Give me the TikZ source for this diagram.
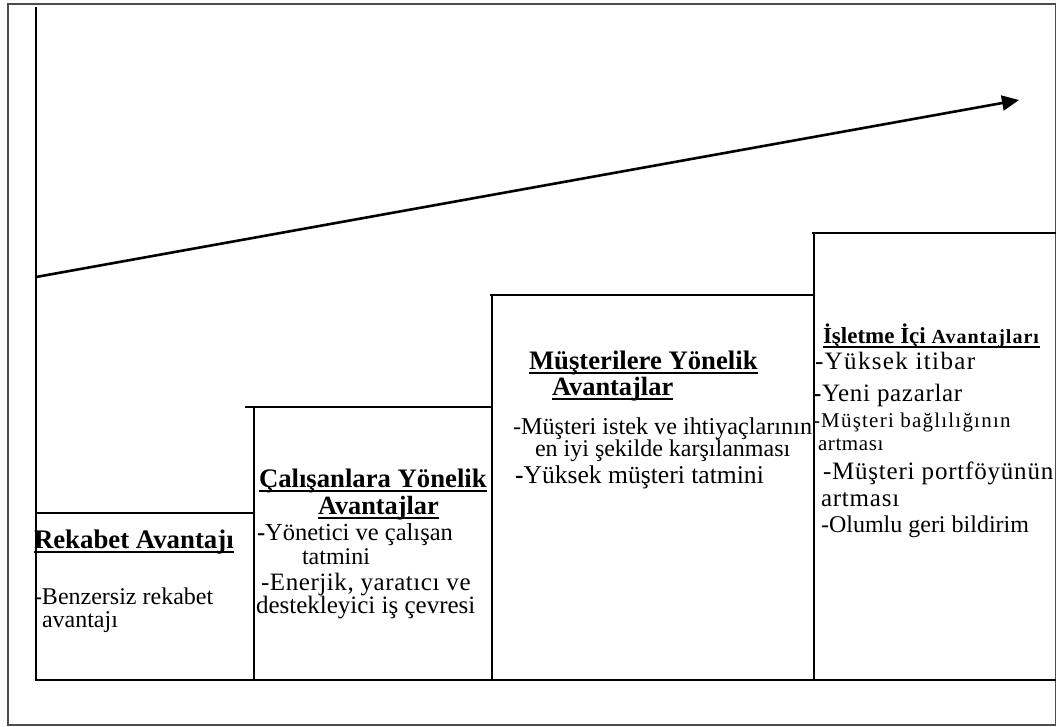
\documentclass[tikz,border=0pt]{standalone}
\usepackage{fontspec}
\setmainfont{Liberation Serif}
\usetikzlibrary{arrows.meta}
\newcommand\fsz[1]{\fontsize{#1}{#1}\selectfont}
\newcommand\ulbox[1]{\setbox0\hbox{#1}\rlap{\rule[-5pt]{\wd0}{2pt}}\box0}
\newcommand\lsp[2]{{\addfontfeature{LetterSpace=#1}#2}}
\begin{document}
\begin{tikzpicture}[x=1pt,y=-1pt,
  frame/.style={draw=black!70,line width=1.3pt},
  stair/.style={draw=black,line width=1.9pt},
  trend/.style={draw=black,line width=2.6pt,-{Triangle[length=17pt,width=15pt]}},
  txt/.style={anchor=base west,inner sep=0pt,outer sep=0pt,text=black}]
\useasboundingbox (0,0) rectangle (1057,727);
\draw[frame] (8,4) rectangle (1055.5,725);
% axis and baseline
\coordinate (axtop) at (36,7);
\coordinate (axbot) at (36,680);
\coordinate (baseR) at (1056,680);
\draw[stair] (axtop) -- (axbot) -- (baseR);
% steps
\coordinate (s1L) at (36,513);   \coordinate (s1R) at (254,513);
\coordinate (s2L) at (245,407);  \coordinate (s2R) at (492,407);
\coordinate (s3L) at (490,295);  \coordinate (s3R) at (813,295);
\coordinate (s4L) at (812,233);  \coordinate (s4R) at (1056,233);
\draw[stair] (s1L) -- (s1R);
\draw[stair] (254,680) -- (254,407);
\draw[stair] (s2L) -- (s2R);
\draw[stair] (492,680) -- (492,295);
\draw[stair] (s3L) -- (s3R);
\draw[stair] (814,680) -- (814,233);
\draw[stair] (s4L) -- (s4R);
% trend arrow
\coordinate (arS) at (36,277);
\coordinate (arE) at (1019,100);
\draw[trend] (arS) -- (arE);
% box 1
\node[txt] (t1a) at (34,548) {\fsz{26.8}\ulbox{\textbf{Rekabet Avantajı}}};
\node[txt] (b1a) at (34,604) {\fsz{24}-Benzersiz rekabet};
\node[txt] (b1b) at (42,627) {\fsz{24}avantajı};
% box 2
\node[txt] (t2a) at (259,487) {\fsz{26.7}\ulbox{\textbf{Çalışanlara Yönelik}}};
\node[txt] (t2b) at (318,514) {\fsz{26.3}\ulbox{\textbf{Avantajlar}}};
\node[txt] (b2a) at (257,540) {\fsz{24.5}\textbf{-}Yönetici ve çalışan};
\node[txt] (b2b) at (302,564) {\fsz{24}tatmini};
\node[txt] (b2c) at (261,590) {\fsz{25}\lsp{2.3}{-Enerjik, yaratıcı ve}};
\node[txt] (b2d) at (256,613) {\fsz{25}destekleyici iş çevresi};
% box 3
\node[txt] (t3a) at (529,369) {\fsz{26.7}\ulbox{\textbf{Müşterilere Yönelik}}};
\node[txt] (t3b) at (552,395) {\fsz{26.4}\ulbox{\textbf{Avantajlar}}};
\node[txt] (b3a) at (513,434) {\fsz{24.2}-Müşteri istek ve ihtiyaçlarının};
\node[txt] (b3b) at (535,456) {\fsz{24}en iyi şekilde karşılanması};
\node[txt] (b3c) at (515,483) {\fsz{25.6}\textbf{-}Yüksek müşteri tatmini};
% box 4
\node[txt] (t4) at (823,343) {\ulbox{\textbf{\fsz{23}İşletme İçi \fsz{20}\lsp{5}{Avantajları}}}};
\node[txt] (b4a) at (815,369) {\fsz{25}\lsp{5.5}{-Yüksek itibar}};
\node[txt] (b4b) at (813,401) {\fsz{25}\lsp{2.7}{\textbf{-}Yeni pazarlar}};
\node[txt] (b4c) at (813,427) {\fsz{21}\lsp{5.8}{-Müşteri bağlılığının}};
\node[txt] (b4d) at (818,450) {\fsz{21}\lsp{2.9}{artması}};
\node[txt] (b4e) at (823,479) {\fsz{25}\lsp{3.2}{-Müşteri portföyünün}};
\node[txt] (b4f) at (821,506) {\fsz{25}\lsp{3.1}{artması}};
\node[txt] (b4g) at (821,532) {\fsz{24}-Olumlu geri bildirim};
\end{tikzpicture}
\end{document}
